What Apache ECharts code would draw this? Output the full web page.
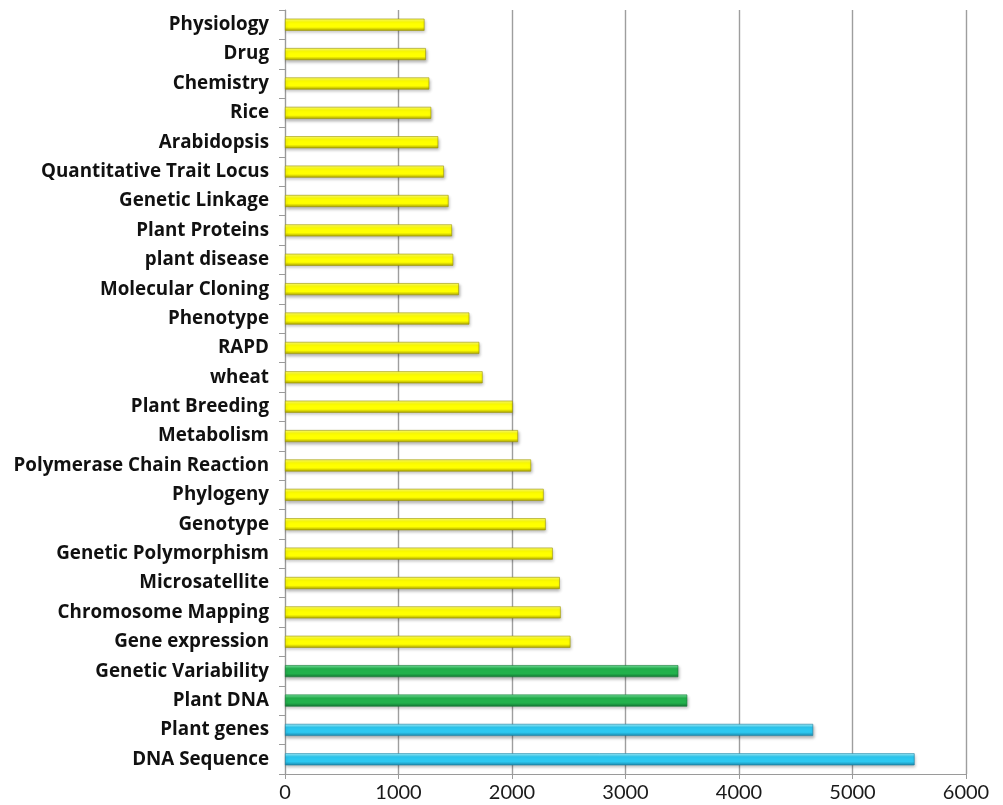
<!DOCTYPE html>
<html>
<head>
<meta charset="utf-8">
<script src="https://cdn.jsdelivr.net/npm/echarts@6/dist/echarts.min.js"></script>
<style>
  html, body { margin: 0; padding: 0; background: #ffffff; }
  #chart { width: 1003px; height: 805px; }
</style>
</head>
<body>
<div id="chart"></div>
<script>
// MeSH terms, listed from the bottom row upward
const terms = [
  'DNA Sequence', 'Plant genes', 'Plant DNA', 'Genetic Variability',
  'Gene expression', 'Chromosome Mapping', 'Microsatellite', 'Genetic Polymorphism',
  'Genotype', 'Phylogeny', 'Polymerase Chain Reaction', 'Metabolism',
  'Plant Breeding', 'wheat', 'RAPD', 'Phenotype', 'Molecular Cloning',
  'plant disease', 'Plant Proteins', 'Genetic Linkage', 'Quantitative Trait Locus',
  'Arabidopsis', 'Rice', 'Chemistry', 'Drug', 'Physiology'
];

// Number of records per term
const counts = [
  5547, 4653, 3544, 3465,
  2515, 2429, 2421, 2359,
  2297, 2279, 2168, 2053,
  2006, 1741, 1712, 1624, 1532,
  1482, 1471, 1441, 1400,
  1350, 1288, 1271, 1241, 1229
];

// Frequency tier of each term: 0 = top tier, 1 = second tier, 2 = the rest
const tiers = [
  0, 0, 1, 1,
  2, 2, 2, 2,
  2, 2, 2, 2,
  2, 2, 2, 2, 2,
  2, 2, 2, 2,
  2, 2, 2, 2, 2
];

const xTicks = { min: 0, max: 6000, step: 1000 };

// Glossy tube fill for each tier: light top edge, saturated body, dark lower edge
function tube(light, body, dark) {
  return new echarts.graphic.LinearGradient(0, 0, 0, 1, [
    { offset: 0, color: light },
    { offset: 0.3, color: body },
    { offset: 0.7, color: body },
    { offset: 1, color: dark }
  ]);
}
const tierStyles = [
  { color: tube('#a6f4ff', '#2cc8f0', '#1a86aa'), borderColor: '#1b7fa3' },
  { color: tube('#7be6a2', '#22b14c', '#137533'), borderColor: '#147a35' },
  { color: tube('#ffff70', '#ffff00', '#aaa300'), borderColor: '#9c9600' }
];

const seriesList = tierStyles.map((style, t) => ({
  type: 'bar',
  stack: 'terms',
  barWidth: 12,
  data: counts.map((v, i) => (tiers[i] === t ? v : '-')),
  itemStyle: {
    color: style.color,
    borderColor: style.borderColor,
    borderWidth: 0.6,
    shadowColor: 'rgba(0,0,0,0.28)',
    shadowBlur: 3,
    shadowOffsetX: 1,
    shadowOffsetY: 2
  },
  silent: true
}));

const chart = echarts.init(document.getElementById('chart'), null, { renderer: 'canvas' });
chart.setOption({
  animation: false,
  backgroundColor: '#ffffff',
  grid: { left: 285, right: 37, top: 10, bottom: 31, containLabel: false },
  xAxis: {
    type: 'value',
    min: xTicks.min,
    max: xTicks.max,
    interval: xTicks.step,
    axisLine: { show: true, lineStyle: { color: '#9a9a9a', width: 1 } },
    axisTick: { show: true, length: 5, lineStyle: { color: '#9a9a9a' } },
    splitLine: { show: true, lineStyle: { color: '#9e9e9e', width: 1.4 } },
    axisLabel: {
      color: '#1a1a1a',
      fontFamily: 'Lato',
      fontSize: 20,
      margin: 9,
      formatter: (v) => String(v)
    }
  },
  yAxis: {
    type: 'category',
    data: terms,
    axisLine: { show: true, lineStyle: { color: '#9a9a9a', width: 1 } },
    axisTick: { show: true, length: 6, inside: false, lineStyle: { color: '#9a9a9a' } },
    splitLine: { show: false },
    axisLabel: {
      color: '#111111',
      fontFamily: 'Open Sans',
      fontWeight: 'bold',
      fontSize: 18.8,
      margin: 16
    }
  },
  series: seriesList
});
</script>
</body>
</html>
